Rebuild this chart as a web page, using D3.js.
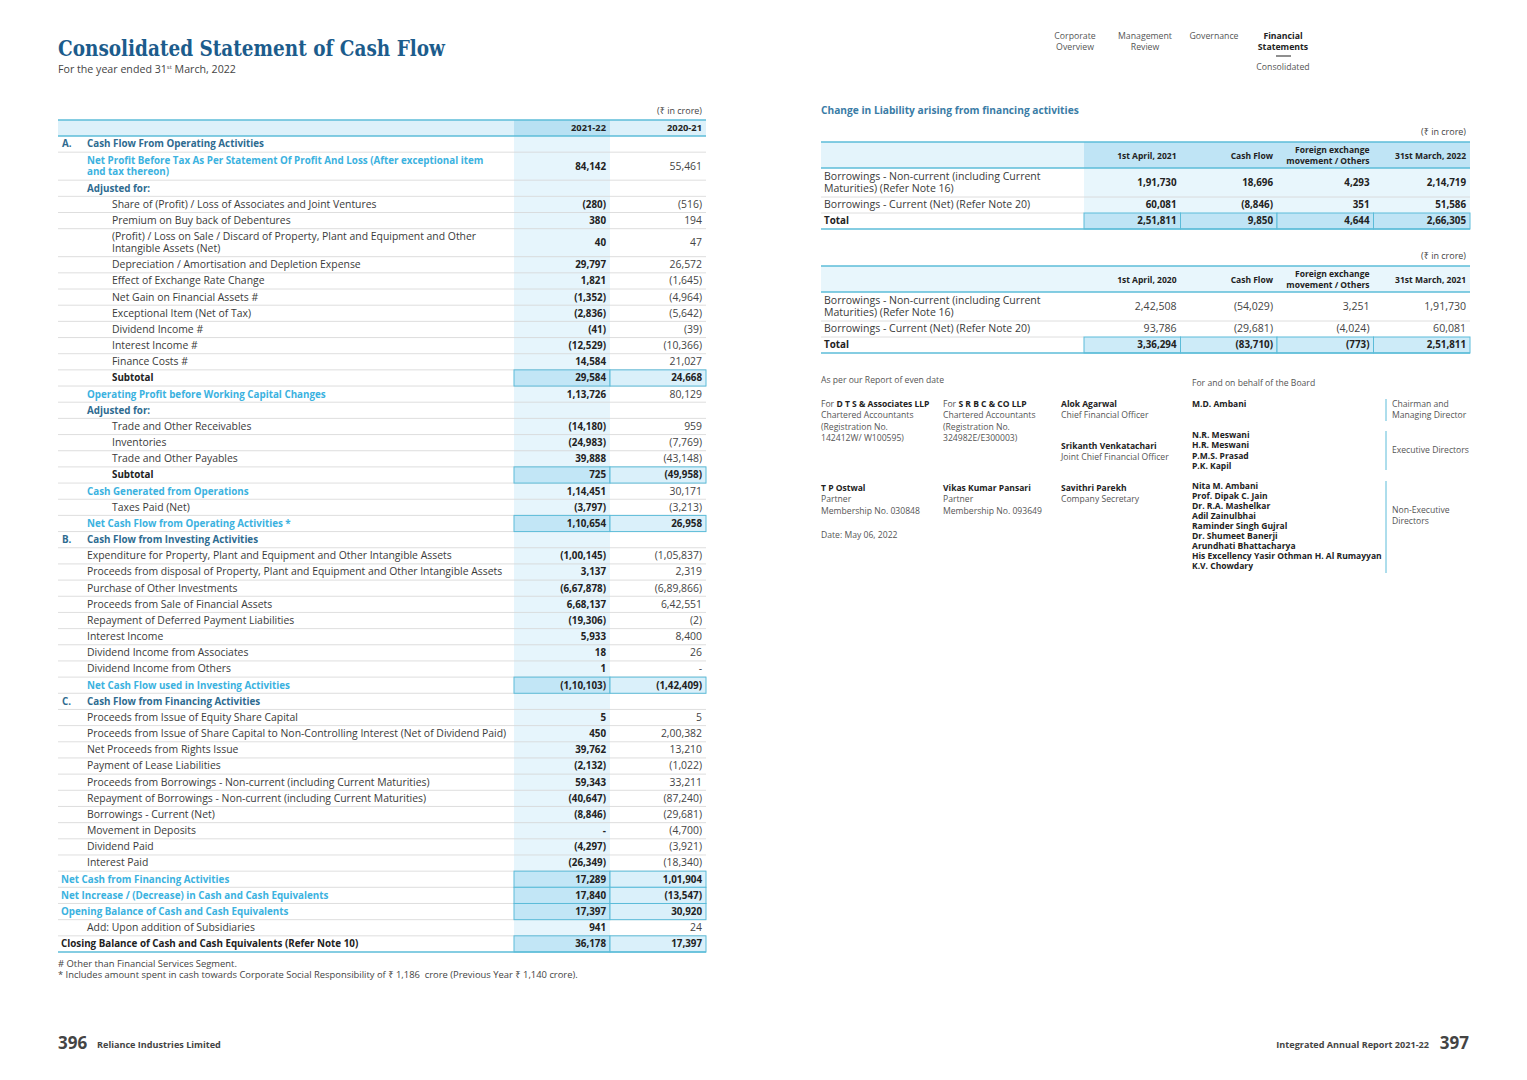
<!DOCTYPE html>
<html><head><meta charset="utf-8">
<script src="https://cdn.jsdelivr.net/npm/d3@7"></script>
<style>body{margin:0;background:#fff} svg{display:block}</style>
</head><body><svg id="c" width="1527" height="1080"></svg>
<script>
// ---------------- DATA ----------------
const columnHeaders = ["2021-22", "2020-21"];
const rowLabels = [
  "Cash Flow From Operating Activities",
  "Net Profit Before Tax As Per Statement Of Profit And Loss (After exceptional item\nand tax thereon)",
  "Adjusted for:",
  "Share of (Profit) / Loss of Associates and Joint Ventures",
  "Premium on Buy back of Debentures",
  "(Profit) / Loss on Sale / Discard of Property, Plant and Equipment and Other\nIntangible Assets (Net)",
  "Depreciation / Amortisation and Depletion Expense",
  "Effect of Exchange Rate Change",
  "Net Gain on Financial Assets #",
  "Exceptional Item (Net of Tax)",
  "Dividend Income #",
  "Interest Income #",
  "Finance Costs #",
  "Subtotal",
  "Operating Profit before Working Capital Changes",
  "Adjusted for:",
  "Trade and Other Receivables",
  "Inventories",
  "Trade and Other Payables",
  "Subtotal",
  "Cash Generated from Operations",
  "Taxes Paid (Net)",
  "Net Cash Flow from Operating Activities *",
  "Cash Flow from Investing Activities",
  "Expenditure for Property, Plant and Equipment and Other Intangible Assets",
  "Proceeds from disposal of Property, Plant and Equipment and Other Intangible Assets",
  "Purchase of Other Investments",
  "Proceeds from Sale of Financial Assets",
  "Repayment of Deferred Payment Liabilities",
  "Interest Income",
  "Dividend Income from Associates",
  "Dividend Income from Others",
  "Net Cash Flow used in Investing Activities",
  "Cash Flow from Financing Activities",
  "Proceeds from Issue of Equity Share Capital",
  "Proceeds from Issue of Share Capital to Non-Controlling Interest (Net of Dividend Paid)",
  "Net Proceeds from Rights Issue",
  "Payment of Lease Liabilities",
  "Proceeds from Borrowings - Non-current (including Current Maturities)",
  "Repayment of Borrowings - Non-current (including Current Maturities)",
  "Borrowings - Current (Net)",
  "Movement in Deposits",
  "Dividend Paid",
  "Interest Paid",
  "Net Cash from Financing Activities",
  "Net Increase / (Decrease) in Cash and Cash Equivalents",
  "Opening Balance of Cash and Cash Equivalents",
  "Add: Upon addition of Subsidiaries",
  "Closing Balance of Cash and Cash Equivalents (Refer Note 10)"
];
const sectionLetters = {0: "A.", 23: "B.", 33: "C."};
const rowKinds = [
  "section","key","adj","item","item","item","item","item","item","item","item","item","item","sub",
  "key","adj","item","item","item","sub","key","item","keytotal",
  "section","item1","item1","item1","item1","item1","item1","item1","item1","keytotal",
  "section","item1","item1","item1","item1","item1","item1","item1","item1","item1","item1",
  "grand","grand","grand","item1","closing"
];
const values2122 = [
  null, 84142, null, -280, 380, 40, 29797, 1821, -1352, -2836, -41, -12529, 14584, 29584,
  113726, null, -14180, -24983, 39888, 725, 114451, -3797, 110654,
  null, -100145, 3137, -667878, 668137, -19306, 5933, 18, 1, -110103,
  null, 5, 450, 39762, -2132, 59343, -40647, -8846, 0, -4297, -26349,
  17289, 17840, 17397, 941, 36178
];
const values2021 = [
  null, 55461, null, -516, 194, 47, 26572, -1645, -4964, -5642, -39, -10366, 21027, 24668,
  80129, null, 959, -7769, -43148, -49958, 30171, -3213, 26958,
  null, -105837, 2319, -689866, 642551, -2, 8400, 26, 0, -142409,
  null, 5, 200382, 13210, -1022, 33211, -87240, -29681, -4700, -3921, -18340,
  101904, -13547, 30920, 24, 17397
];

const liabLabels = ["Borrowings - Non-current (including Current\nMaturities) (Refer Note 16)", "Borrowings - Current (Net) (Refer Note 20)", "Total"];
const liabHeaders2022 = ["1st April, 2021", "Cash Flow", "Foreign exchange\nmovement / Others", "31st March, 2022"];
const liabHeaders2021 = ["1st April, 2020", "Cash Flow", "Foreign exchange\nmovement / Others", "31st March, 2021"];
const liabValues2022 = [[191730, 18696, 4293, 214719], [60081, -8846, 351, 51586], [251811, 9850, 4644, 266305]];
const liabValues2021 = [[242508, -54029, 3251, 191730], [93786, -29681, -4024, 60081], [336294, -83710, -773, 251811]];

const navItems = [["Corporate","Overview"],["Management","Review"],["Governance"],["Financial","Statements"]];
const auditors = [
  {firm: "D T S & Associates LLP", reg: "142412W/ W100595)", partner: "T P Ostwal", member: "Membership No. 030848"},
  {firm: "S R B C & CO LLP", reg: "324982E/E300003)", partner: "Vikas Kumar Pansari", member: "Membership No. 093649"}
];
const officers = [["Alok Agarwal","Chief Financial Officer"],["Srikanth Venkatachari","Joint Chief Financial Officer"],["Savithri Parekh","Company Secretary"]];
const boardGroups = [
  {names: ["M.D. Ambani"], role: ["Chairman and","Managing Director"]},
  {names: ["N.R. Meswani","H.R. Meswani","P.M.S. Prasad","P.K. Kapil"], role: ["Executive Directors"]},
  {names: ["Nita M. Ambani","Prof. Dipak C. Jain","Dr. R.A. Mashelkar","Adil Zainulbhai","Raminder Singh Gujral","Dr. Shumeet Banerji","Arundhati Bhattacharya","His Excellency Yasir Othman H. Al Rumayyan","K.V. Chowdary"], role: ["Non-Executive","Directors"]}
];

// ---------------- HELPERS ----------------
const FONT = "'Open Sans','Noto Sans',sans-serif";
const svg = d3.select("#c");
svg.append("rect").attr("width",1527).attr("height",1080).attr("fill","#fff");

function fit(text, weight, target, family) {
  const t = svg.append("text").attr("font-family", family || FONT).attr("font-weight", weight).attr("font-size", 10).text(text);
  const w = t.node().getComputedTextLength(); t.remove();
  return 10 * target / w;
}
function inr(v) {
  if (v === null || v === undefined) return "";
  if (v === 0) return "-";
  const s = String(Math.abs(v));
  let out = s;
  if (s.length > 3) {
    let rest = s.slice(0, -3); const parts = [];
    while (rest.length > 2) { parts.unshift(rest.slice(-2)); rest = rest.slice(0, -2); }
    if (rest) parts.unshift(rest);
    out = parts.join(",") + "," + s.slice(-3);
  }
  return v < 0 ? "(" + out + ")" : out;
}
function txt(g, x, y, s, o) {
  o = o || {};
  return g.append("text").attr("x", x).attr("y", y).text(s)
    .attr("font-family", o.family || FONT).attr("font-size", o.size || 9.5)
    .attr("font-weight", o.weight || 400).attr("fill", o.fill || "#3a3a3a")
    .attr("text-anchor", o.anchor || "start");
}

const fsN = fit("Proceeds from disposal of Property, Plant and Equipment and Other Intangible Assets", 400, 416);
const fsB = fit("Net Profit Before Tax As Per Statement Of Profit And Loss (After exceptional item", 700, 397);
const fsSmall = fit("Membership No. 030848", 400, 99);
const fsSmallB = fit("His Excellency Yasir Othman H. Al Rumayyan", 700, 190);
const fsNav = fit("Management", 400, 54);

const TEAL = "#5cbcd9", GRID = "#d5d5d5", STEEL = "#2e6b90", CYAN = "#3bb2e0", DARK = "#222";

// ---------------- HEADER ----------------
txt(svg, 58, 56, "Consolidated Statement of Cash Flow", {family: "'DejaVu Serif','DejaVu Serif Condensed',serif", size: 22, weight: 700, fill: "#1c5c8c"})
  .attr("textLength", 387).attr("lengthAdjust", "spacingAndGlyphs");
const sub = txt(svg, 58, 73, "For the year ended 31", {size: fit("For the year ended 31st March, 2022", 400, 182), fill: "#444"});
sub.append("tspan").attr("dy", -4).attr("font-size", 6).text("st");
sub.append("tspan").attr("dy", 4).text(" March, 2022");

// nav
const navX = [1075, 1145, 1214, 1283];
navItems.forEach((lines, i) => {
  const bold = i === 3;
  lines.forEach((l, j) => txt(svg, navX[i], 39 + j * 11, l, {size: fsNav, anchor: "middle", weight: bold ? 700 : 400, fill: bold ? "#222" : "#555"}));
});
svg.append("line").attr("x1", 1276).attr("x2", 1291).attr("y1", 56).attr("y2", 56).attr("stroke", "#444").attr("stroke-width", 1.2);
txt(svg, 1283, 70, "Consolidated", {size: fsNav, anchor: "middle", fill: "#555"});

// ---------------- LEFT TABLE ----------------
const L = {left: 58, right: 706, c1: 514, c2: 610};
const units = rowLabels.map(l => l.includes("\n") ? 28 / 16.17 : 1);
const cum = [0]; units.forEach(u => cum.push(cum[cum.length - 1] + u));
const y = d3.scaleLinear().domain([0, cum[cum.length - 1]]).range([136, 952]);
const colX = d3.scaleOrdinal().domain(columnHeaders).range([L.c1, L.c2]);
const colW = 96;

const lt = svg.append("g");
txt(lt, 702, 114, "(₹ in crore)", {size: fit("(₹ in crore)", 400, 45), fill: "#444", anchor: "end"});
lt.append("rect").attr("x", L.left).attr("y", 120).attr("width", L.right - L.left).attr("height", 16).attr("fill", "#ddf1fa");
lt.append("rect").attr("x", L.c1).attr("y", 120).attr("width", colW).attr("height", 16).attr("fill", "#b8e1f3");
lt.append("rect").attr("x", L.c1).attr("y", 136).attr("width", colW).attr("height", 952 - 136).attr("fill", "#e6f5fc");
columnHeaders.forEach(h => txt(lt, colX(h) + colW - 4, 131, h, {size: fsB * 0.95, weight: 700, fill: DARK, anchor: "end"}));

const rows = rowLabels.map((label, i) => ({label, kind: rowKinds[i], v: [values2122[i], values2021[i]], y0: y(cum[i]), y1: y(cum[i + 1]), i}));
const hl = new Set(["sub", "keytotal", "grand", "closing"]);

lt.selectAll("line.sep").data(rows.slice(0, -1)).join("line")
  .attr("x1", L.left).attr("x2", L.right).attr("y1", d => d.y1).attr("y2", d => d.y1)
  .attr("stroke", GRID).attr("stroke-width", 0.8);

rows.filter(r => hl.has(r.kind)).forEach(r => {
  columnHeaders.forEach((h, j) => {
    lt.append("rect").attr("x", colX(h)).attr("y", r.y0).attr("width", colW).attr("height", r.y1 - r.y0)
      .attr("fill", j === 0 ? "#c2e6f6" : "#daf0fa").attr("stroke", TEAL).attr("stroke-width", 1);
  });
});
[120, 136, 952].forEach(yy => lt.append("line").attr("x1", L.left).attr("x2", L.right).attr("y1", yy).attr("y2", yy).attr("stroke", TEAL).attr("stroke-width", 1.4));

const labelX = {section: 87, key: 87, adj: 87, keytotal: 87, item1: 87, item: 112, sub: 112, grand: 61, closing: 61};
const labelStyle = {
  section: {weight: 700, fill: STEEL, b: true}, key: {weight: 700, fill: CYAN, b: true}, keytotal: {weight: 700, fill: CYAN, b: true},
  grand: {weight: 700, fill: CYAN, b: true}, adj: {weight: 700, fill: STEEL, b: true}, sub: {weight: 700, fill: DARK, b: true},
  closing: {weight: 700, fill: DARK, b: true}, item: {weight: 400, fill: "#3a3a3a"}, item1: {weight: 400, fill: "#3a3a3a"}
};
rows.forEach(r => {
  const st = labelStyle[r.kind];
  const cy = (r.y0 + r.y1) / 2;
  const lines = r.label.split("\n");
  lines.forEach((l, k) => {
    const ly = cy + 3.4 + (k - (lines.length - 1) / 2) * 11.5;
    txt(lt, labelX[r.kind], ly, l, {size: st.b ? fsB : fsN, weight: st.weight, fill: st.fill});
  });
  if (sectionLetters[r.i]) txt(lt, 62, cy + 3.4, sectionLetters[r.i], {size: fsB, weight: 700, fill: STEEL});
  columnHeaders.forEach((h, j) => {
    const bold = j === 0 || hl.has(r.kind);
    txt(lt, colX(h) + colW - 4, cy + 3.4, inr(r.v[j]), {size: bold ? fsB : fsN, weight: bold ? 700 : 400, fill: bold ? DARK : "#444", anchor: "end"});
  });
});

const fsFoot = fit("* Includes amount spent in cash towards Corporate Social Responsibility of ₹ 1,186  crore (Previous Year ₹ 1,140 crore).", 400, 518);
txt(svg, 58, 967, "# Other than Financial Services Segment.", {size: fsFoot, fill: "#444"});
txt(svg, 58, 978, "* Includes amount spent in cash towards Corporate Social Responsibility of ₹ 1,186  crore (Previous Year ₹ 1,140 crore).", {size: fsFoot, fill: "#444"}).attr("xml:space", "preserve");

txt(svg, 58, 1049, "396", {size: 17, weight: 700, fill: "#444"});
txt(svg, 97, 1048, "Reliance Industries Limited", {size: fit("Reliance Industries Limited", 700, 124), weight: 700, fill: "#444"});
txt(svg, 1429, 1048, "Integrated Annual Report 2021-22", {size: fit("Integrated Annual Report 2021-22", 700, 153), weight: 700, fill: "#444", anchor: "end"});
txt(svg, 1469, 1049, "397", {size: 17, weight: 700, fill: "#444", anchor: "end"});

// ---------------- RIGHT TABLES ----------------
txt(svg, 821, 114, "Change in Liability arising from financing activities", {size: fit("Change in Liability arising from financing activities", 700, 258), weight: 700, fill: "#3a7ca6"});
const R = {left: 821, right: 1470, c0: 1084};
const rcol = d3.scaleBand().domain([0, 1, 2, 3]).range([R.c0, R.right]);
const fsR = fit("Borrowings - Non-current (including Current", 400, 217);
const fsRH = fit("31st March, 2022", 700, 71);

function liabTable(top, headers, values, boldBody, headFillLabel, headFillVals, bodyFill, totFillA) {
  const g = svg.append("g");
  txt(g, 1466, top - 7, "(₹ in crore)", {size: fit("(₹ in crore)", 400, 45), fill: "#444", anchor: "end"});
  const hb = top + 26;
  g.append("rect").attr("x", R.left).attr("y", top).attr("width", R.c0 - R.left).attr("height", 26).attr("fill", headFillLabel);
  g.append("rect").attr("x", R.c0).attr("y", top).attr("width", R.right - R.c0).attr("height", 26).attr("fill", headFillVals);
  const ry = [hb, hb + 29, hb + 45, hb + 61];
  if (bodyFill) g.append("rect").attr("x", R.c0).attr("y", ry[0]).attr("width", R.right - R.c0).attr("height", ry[2] - ry[0]).attr("fill", bodyFill);
  g.append("line").attr("x1", R.left).attr("x2", R.right).attr("y1", ry[1]).attr("y2", ry[1]).attr("stroke", GRID).attr("stroke-width", 0.8);
  g.append("line").attr("x1", R.left).attr("x2", R.c0).attr("y1", ry[2]).attr("y2", ry[2]).attr("stroke", GRID).attr("stroke-width", 0.8);
  values[2].forEach((v, j) => g.append("rect").attr("x", rcol(j)).attr("y", ry[2]).attr("width", rcol.bandwidth()).attr("height", ry[3] - ry[2])
    .attr("fill", totFillA).attr("stroke", TEAL).attr("stroke-width", 1));
  [top, hb, ry[3]].forEach(yy => g.append("line").attr("x1", R.left).attr("x2", R.right).attr("y1", yy).attr("y2", yy).attr("stroke", TEAL).attr("stroke-width", 1.4));
  headers.forEach((h, j) => {
    const ls = h.split("\n");
    ls.forEach((l, k) => txt(g, rcol(j) + rcol.bandwidth() - 4, top + 16.5 + (k - (ls.length - 1) / 2) * 10.5, l, {size: fsRH, weight: 700, fill: DARK, anchor: "end"}));
  });
  liabLabels.forEach((lab, i) => {
    const cy = (ry[i] + ry[i + 1]) / 2;
    const ls = lab.split("\n");
    const isTot = i === 2;
    ls.forEach((l, k) => txt(g, 824, cy + 3.4 + (k - (ls.length - 1) / 2) * 11.5, l, {size: isTot ? fsB : fsR, weight: isTot ? 700 : 400, fill: isTot ? DARK : "#3a3a3a"}));
    values[i].forEach((v, j) => {
      const b = isTot || boldBody;
      txt(g, rcol(j) + rcol.bandwidth() - 4, cy + 3.4, inr(v), {size: b ? fsB : fsR, weight: b ? 700 : 400, fill: b ? DARK : "#444", anchor: "end"});
    });
  });
}
liabTable(142, liabHeaders2022, liabValues2022, true, "#e4f4fb", "#bfe4f5", "#e8f6fc", "#bfe4f5");
liabTable(266, liabHeaders2021, liabValues2021, false, "#e8f6fc", "#e8f6fc", null, "#cdebf8");

// ---------------- SIGNATURES ----------------
const sg = svg.append("g");
const so = (b) => ({size: b ? fsSmallB : fsSmall, weight: b ? 700 : 400, fill: b ? DARK : "#555"});
txt(sg, 821, 383, "As per our Report of even date", so(false));
txt(sg, 1192, 386, "For and on behalf of the Board", so(false));
const audX = [821, 943];
auditors.forEach((a, i) => {
  const t = txt(sg, audX[i], 407, "For ", so(false));
  t.append("tspan").attr("font-weight", 700).attr("fill", DARK).attr("font-size", fsSmallB).text(a.firm);
  txt(sg, audX[i], 418, "Chartered Accountants", so(false));
  txt(sg, audX[i], 430, "(Registration No.", so(false));
  txt(sg, audX[i], 441, a.reg, so(false));
  txt(sg, audX[i], 491, a.partner, so(true));
  txt(sg, audX[i], 502, "Partner", so(false));
  txt(sg, audX[i], 514, a.member, so(false));
});
txt(sg, 821, 538, "Date: May 06, 2022", so(false));
const offY = [407, 449, 491];
officers.forEach((o, i) => { txt(sg, 1061, offY[i], o[0], so(true)); txt(sg, 1061, offY[i] + 11, o[1], so(false)); });
const grpY = [407, 438, 489], grpStep = [10.3, 10.3, 10.03];
const lineY = [[399, 421], [431, 470], [481, 573]];
const roleY = [[407, 418], [453], [513, 524]];
boardGroups.forEach((g, i) => {
  g.names.forEach((n, k) => txt(sg, 1192, grpY[i] + k * grpStep[i], n, so(true)));
  sg.append("line").attr("x1", 1386).attr("x2", 1386).attr("y1", lineY[i][0]).attr("y2", lineY[i][1]).attr("stroke", TEAL).attr("stroke-width", 1);
  g.role.forEach((r, k) => txt(sg, 1392, roleY[i][k], r, so(false)));
});
</script></body></html>
